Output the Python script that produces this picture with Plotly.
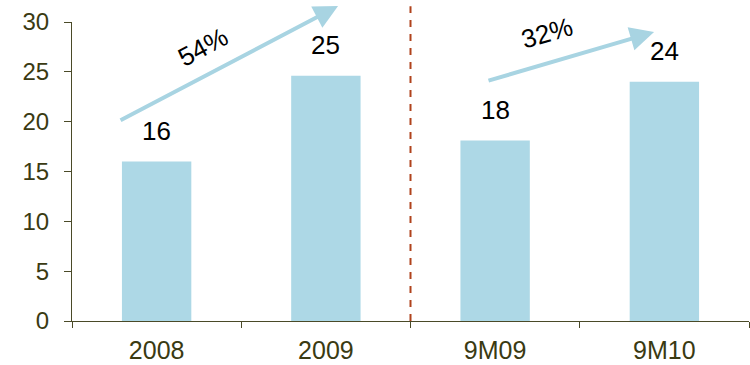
import plotly.graph_objects as go

categories = ["2008", "2009", "9M09", "9M10"]
values = [16.0, 24.6, 18.1, 24.0]
labels = [f"{v:.0f}" for v in values]
growth_labels = ["54%", "32%"]
y_ticks = [0, 5, 10, 15, 20, 25, 30]

bar_color = "#ADD8E6"
arrow_color = "#A8D4E2"
axis_color = "#4A4A28"
tick_font_color = "#3A3A12"
font_family = "Liberation Sans, Arial, sans-serif"

fig = go.Figure()
fig.add_trace(go.Bar(
    x=categories, y=values, width=0.41,
    marker=dict(color=bar_color, line=dict(width=0)),
    hoverinfo="skip",
))

# value labels above bars
for i, (c, v, t) in enumerate(zip(categories, values, labels)):
    fig.add_annotation(x=i, y=v, text=t, showarrow=False, yanchor="bottom",
                       yshift=14, font=dict(size=26, color="#000000", family=font_family))

# growth arrows (tail -> head, in axis units)
arrows = [((-0.222, 20.06), (1.072, 31.6)), ((1.952, 24.07), (2.939, 28.99))]
for (tx, ty), (hx, hy) in arrows:
    fig.add_annotation(x=hx, y=hy, ax=tx, ay=ty, xref="x", yref="y", axref="x", ayref="y",
                       text="", showarrow=True, arrowhead=2, arrowsize=1.2,
                       arrowwidth=4, arrowcolor=arrow_color, standoff=0, startstandoff=0)

# growth labels
growth_pos = [((0.274, 27.5), -28), ((2.306, 28.9), -16)]
for ((gx, gy), ang), txt in zip(growth_pos, growth_labels):
    fig.add_annotation(x=gx, y=gy, text=txt, showarrow=False, textangle=ang,
                       font=dict(size=26, color="#000000", family=font_family))

# dashed separator at the boundary between 2009 and 9M09
sep_paper_x = (1.5 + 0.5) / len(categories)
fig.add_shape(type="line", xref="paper", yref="paper", x0=sep_paper_x, x1=sep_paper_x,
              y0=0, y1=1.053, line=dict(color="#B0431C", width=2, dash="7px,7px"))

fig.update_layout(
    width=750, height=365,
    margin=dict(l=72, r=1, t=22, b=44),
    paper_bgcolor="white", plot_bgcolor="white",
    showlegend=False,
    font=dict(family=font_family),
)
fig.update_xaxes(
    range=[-0.5, 3.5], showgrid=False, showline=True, linecolor=axis_color, linewidth=1,
    ticks="outside", tickson="boundaries", ticklen=6, tickcolor=axis_color,
    tickfont=dict(size=25, color=tick_font_color, family=font_family),
    ticklabelstandoff=7, zeroline=False,
)
fig.update_yaxes(
    range=[0, 30], tickvals=y_ticks, showgrid=False, showline=True, linecolor=axis_color,
    linewidth=1, ticks="outside", ticklen=7, tickcolor=axis_color,
    tickfont=dict(size=24, color=tick_font_color, family=font_family),
    ticklabelstandoff=10, zeroline=False,
)

fig.write_html("out.html")
